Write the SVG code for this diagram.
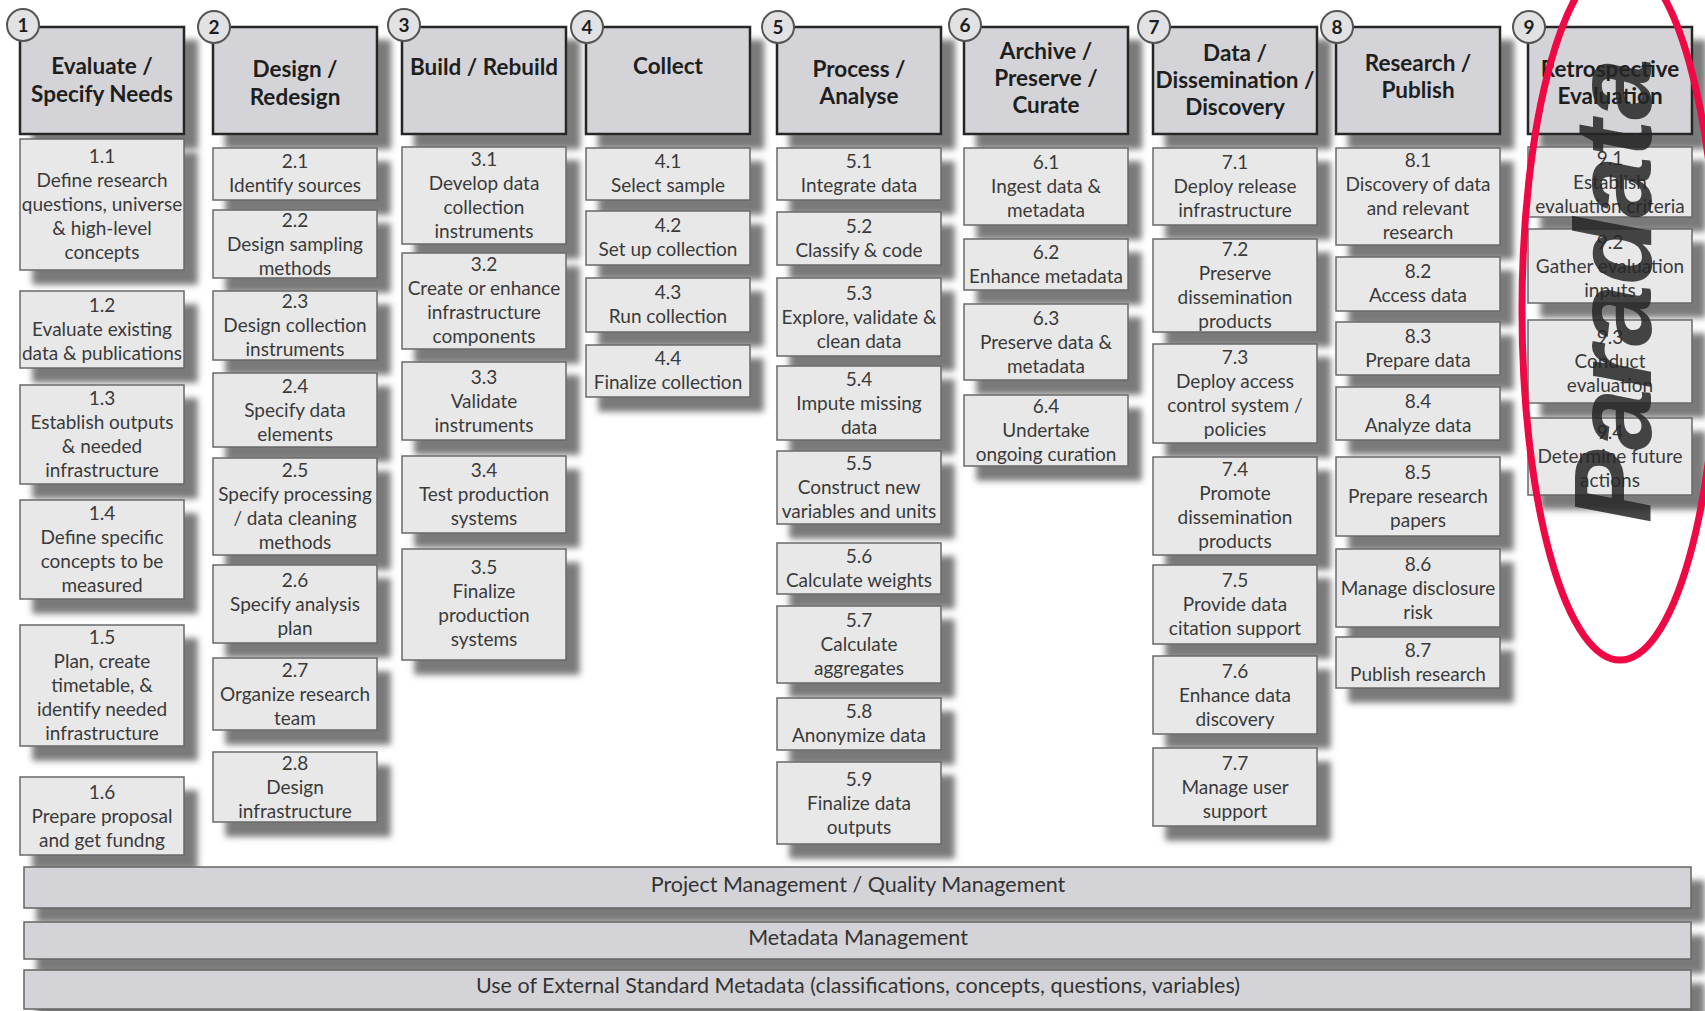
<svg xmlns="http://www.w3.org/2000/svg" width="1705" height="1011" viewBox="0 0 1705 1011">
  <defs>
    <filter id="drop" x="-5%" y="-20%" width="125%" height="200%">
      <feGaussianBlur in="SourceAlpha" stdDeviation="3"/>
      <feOffset dx="13" dy="14" result="off"/>
      <feFlood flood-color="#6c6c6c" flood-opacity="0.9"/>
      <feComposite in2="off" operator="in"/>
      <feMerge><feMergeNode/><feMergeNode in="SourceGraphic"/></feMerge>
    </filter>
    <style>
      .hdr { fill: #d4d4d8; stroke: #262626; stroke-width: 2.5; filter: url(#drop); }
      .box { fill: #e8e8e9; stroke: #6a6a6a; stroke-width: 1.5; filter: url(#drop); }
      .bar { fill: #d4d4d8; stroke: #666; stroke-width: 1.5; filter: url(#drop); }
      .num { fill: #e2e2e4; stroke: #555; stroke-width: 2; }
      .numt { font-family: Lato, "Liberation Sans", sans-serif; font-weight: 700; font-size: 19px; fill: #1e1e1e; text-anchor: middle; }
      .ht { font-family: Lato, "Liberation Sans", sans-serif; font-weight: 700; font-size: 22.5px; fill: #1e1e1e; text-anchor: middle; }
      .st { font-family: Lato, "Liberation Sans", sans-serif; font-size: 19px; fill: #3a3a3a; text-anchor: middle; }
      .bt { font-family: Lato, "Liberation Sans", sans-serif; font-size: 21.5px; fill: #333; text-anchor: middle; }
    </style>
  </defs>

  <!-- Phase 1 -->
  <g id="phase1">
    <rect class="hdr" x="20" y="27" width="164" height="107"/>
    <circle class="num" cx="23" cy="25" r="16"/><text class="numt" x="23" y="32">1</text>
    <text class="ht" x="102" y="74">Evaluate /<tspan x="102" dy="28">Specify Needs</tspan></text>
  </g>
  <g id="n1_1"><rect class="box" x="20" y="139" width="164" height="131"/>
    <text class="st" x="102" y="163">1.1<tspan x="102" dy="24">Define research</tspan><tspan x="102" dy="24">questions, universe</tspan><tspan x="102" dy="24">&amp; high-level</tspan><tspan x="102" dy="24">concepts</tspan></text></g>
  <g id="n1_2"><rect class="box" x="20" y="291" width="164" height="77"/>
    <text class="st" x="102" y="312">1.2<tspan x="102" dy="24">Evaluate existing</tspan><tspan x="102" dy="24">data &amp; publications</tspan></text></g>
  <g id="n1_3"><rect class="box" x="20" y="385" width="164" height="99"/>
    <text class="st" x="102" y="405">1.3<tspan x="102" dy="24">Establish outputs</tspan><tspan x="102" dy="24">&amp; needed</tspan><tspan x="102" dy="24">infrastructure</tspan></text></g>
  <g id="n1_4"><rect class="box" x="20" y="500" width="164" height="99"/>
    <text class="st" x="102" y="520">1.4<tspan x="102" dy="24">Define specific</tspan><tspan x="102" dy="24">concepts to be</tspan><tspan x="102" dy="24">measured</tspan></text></g>
  <g id="n1_5"><rect class="box" x="20" y="625" width="164" height="121"/>
    <text class="st" x="102" y="644">1.5<tspan x="102" dy="24">Plan, create</tspan><tspan x="102" dy="24">timetable, &amp;</tspan><tspan x="102" dy="24">identify needed</tspan><tspan x="102" dy="24">infrastructure</tspan></text></g>
  <g id="n1_6"><rect class="box" x="20" y="777" width="164" height="78"/>
    <text class="st" x="102" y="798.5">1.6<tspan x="102" dy="24">Prepare proposal</tspan><tspan x="102" dy="24">and get fundng</tspan></text></g>

  <!-- Phase 2 -->
  <g id="phase2">
    <rect class="hdr" x="213" y="27" width="164" height="107"/>
    <circle class="num" cx="214" cy="27" r="16"/><text class="numt" x="214" y="34">2</text>
    <text class="ht" x="295" y="77">Design /<tspan x="295" dy="28">Redesign</tspan></text>
  </g>
  <g id="n2_1"><rect class="box" x="213" y="148" width="164" height="52"/>
    <text class="st" x="295" y="168">2.1<tspan x="295" dy="24">Identify sources</tspan></text></g>
  <g id="n2_2"><rect class="box" x="213" y="210" width="164" height="68"/>
    <text class="st" x="295" y="226.5">2.2<tspan x="295" dy="24">Design sampling</tspan><tspan x="295" dy="24">methods</tspan></text></g>
  <g id="n2_3"><rect class="box" x="213" y="291" width="164" height="69"/>
    <text class="st" x="295" y="308">2.3<tspan x="295" dy="24">Design collection</tspan><tspan x="295" dy="24">instruments</tspan></text></g>
  <g id="n2_4"><rect class="box" x="213" y="373" width="164" height="74"/>
    <text class="st" x="295" y="392.5">2.4<tspan x="295" dy="24">Specify data</tspan><tspan x="295" dy="24">elements</tspan></text></g>
  <g id="n2_5"><rect class="box" x="213" y="458" width="164" height="97"/>
    <text class="st" x="295" y="477">2.5<tspan x="295" dy="24">Specify processing</tspan><tspan x="295" dy="24">/ data cleaning</tspan><tspan x="295" dy="24">methods</tspan></text></g>
  <g id="n2_6"><rect class="box" x="213" y="565" width="164" height="78"/>
    <text class="st" x="295" y="586.5">2.6<tspan x="295" dy="24">Specify analysis</tspan><tspan x="295" dy="24">plan</tspan></text></g>
  <g id="n2_7"><rect class="box" x="213" y="658" width="164" height="72"/>
    <text class="st" x="295" y="676.5">2.7<tspan x="295" dy="24">Organize research</tspan><tspan x="295" dy="24">team</tspan></text></g>
  <g id="n2_8"><rect class="box" x="213" y="752" width="164" height="70"/>
    <text class="st" x="295" y="769.5">2.8<tspan x="295" dy="24">Design</tspan><tspan x="295" dy="24">infrastructure</tspan></text></g>

  <!-- Phase 3 -->
  <g id="phase3">
    <rect class="hdr" x="402" y="27" width="164" height="107"/>
    <circle class="num" cx="404" cy="25" r="16"/><text class="numt" x="404" y="32">3</text>
    <text class="ht" x="484" y="75">Build / Rebuild</text>
  </g>
  <g id="n3_1"><rect class="box" x="402" y="147" width="164" height="97"/>
    <text class="st" x="484" y="166">3.1<tspan x="484" dy="24">Develop data</tspan><tspan x="484" dy="24">collection</tspan><tspan x="484" dy="24">instruments</tspan></text></g>
  <g id="n3_2"><rect class="box" x="402" y="253" width="164" height="96"/>
    <text class="st" x="484" y="271">3.2<tspan x="484" dy="24">Create or enhance</tspan><tspan x="484" dy="24">infrastructure</tspan><tspan x="484" dy="24">components</tspan></text></g>
  <g id="n3_3"><rect class="box" x="402" y="362" width="164" height="78"/>
    <text class="st" x="484" y="383.5">3.3<tspan x="484" dy="24">Validate</tspan><tspan x="484" dy="24">instruments</tspan></text></g>
  <g id="n3_4"><rect class="box" x="402" y="456" width="164" height="77"/>
    <text class="st" x="484" y="477">3.4<tspan x="484" dy="24">Test production</tspan><tspan x="484" dy="24">systems</tspan></text></g>
  <g id="n3_5"><rect class="box" x="402" y="549" width="164" height="111"/>
    <text class="st" x="484" y="574">3.5<tspan x="484" dy="24">Finalize</tspan><tspan x="484" dy="24">production</tspan><tspan x="484" dy="24">systems</tspan></text></g>

  <!-- Phase 4 -->
  <g id="phase4">
    <rect class="hdr" x="586" y="27" width="164" height="107"/>
    <circle class="num" cx="587" cy="27" r="16"/><text class="numt" x="587" y="34">4</text>
    <text class="ht" x="668" y="74">Collect</text>
  </g>
  <g id="n4_1"><rect class="box" x="586" y="148" width="164" height="52"/>
    <text class="st" x="668" y="168">4.1<tspan x="668" dy="24">Select sample</tspan></text></g>
  <g id="n4_2"><rect class="box" x="586" y="211" width="164" height="54"/>
    <text class="st" x="668" y="232">4.2<tspan x="668" dy="24">Set up collection</tspan></text></g>
  <g id="n4_3"><rect class="box" x="586" y="278" width="164" height="54"/>
    <text class="st" x="668" y="299">4.3<tspan x="668" dy="24">Run collection</tspan></text></g>
  <g id="n4_4"><rect class="box" x="586" y="345" width="164" height="52"/>
    <text class="st" x="668" y="365">4.4<tspan x="668" dy="24">Finalize collection</tspan></text></g>

  <!-- Phase 5 -->
  <g id="phase5">
    <rect class="hdr" x="777" y="27" width="164" height="107"/>
    <circle class="num" cx="778" cy="27" r="16"/><text class="numt" x="778" y="34">5</text>
    <text class="ht" x="859" y="77">Process /<tspan x="859" dy="27">Analyse</tspan></text>
  </g>
  <g id="n5_1"><rect class="box" x="777" y="148" width="164" height="52"/>
    <text class="st" x="859" y="168">5.1<tspan x="859" dy="24">Integrate data</tspan></text></g>
  <g id="n5_2"><rect class="box" x="777" y="212" width="164" height="53"/>
    <text class="st" x="859" y="232.5">5.2<tspan x="859" dy="24">Classify &amp; code</tspan></text></g>
  <g id="n5_3"><rect class="box" x="777" y="278" width="164" height="78"/>
    <text class="st" x="859" y="299.5">5.3<tspan x="859" dy="24">Explore, validate &amp;</tspan><tspan x="859" dy="24">clean data</tspan></text></g>
  <g id="n5_4"><rect class="box" x="777" y="366" width="164" height="74"/>
    <text class="st" x="859" y="385.5">5.4<tspan x="859" dy="24">Impute missing</tspan><tspan x="859" dy="24">data</tspan></text></g>
  <g id="n5_5"><rect class="box" x="777" y="451" width="164" height="73"/>
    <text class="st" x="859" y="470">5.5<tspan x="859" dy="24">Construct new</tspan><tspan x="859" dy="24">variables and units</tspan></text></g>
  <g id="n5_6"><rect class="box" x="777" y="543" width="164" height="51"/>
    <text class="st" x="859" y="562.5">5.6<tspan x="859" dy="24">Calculate weights</tspan></text></g>
  <g id="n5_7"><rect class="box" x="777" y="606" width="164" height="77"/>
    <text class="st" x="859" y="627">5.7<tspan x="859" dy="24">Calculate</tspan><tspan x="859" dy="24">aggregates</tspan></text></g>
  <g id="n5_8"><rect class="box" x="777" y="698" width="164" height="52"/>
    <text class="st" x="859" y="718">5.8<tspan x="859" dy="24">Anonymize data</tspan></text></g>
  <g id="n5_9"><rect class="box" x="777" y="762" width="164" height="82"/>
    <text class="st" x="859" y="785.5">5.9<tspan x="859" dy="24">Finalize data</tspan><tspan x="859" dy="24">outputs</tspan></text></g>

  <!-- Phase 6 -->
  <g id="phase6">
    <rect class="hdr" x="964" y="27" width="164" height="107"/>
    <circle class="num" cx="965" cy="25" r="16"/><text class="numt" x="965" y="32">6</text>
    <text class="ht" x="1046" y="59">Archive /<tspan x="1046" dy="27">Preserve /</tspan><tspan x="1046" dy="27">Curate</tspan></text>
  </g>
  <g id="n6_1"><rect class="box" x="964" y="148" width="164" height="77"/>
    <text class="st" x="1046" y="169">6.1<tspan x="1046" dy="24">Ingest data &amp;</tspan><tspan x="1046" dy="24">metadata</tspan></text></g>
  <g id="n6_2"><rect class="box" x="964" y="239" width="164" height="51"/>
    <text class="st" x="1046" y="258.5">6.2<tspan x="1046" dy="24">Enhance metadata</tspan></text></g>
  <g id="n6_3"><rect class="box" x="964" y="304" width="164" height="76"/>
    <text class="st" x="1046" y="324.5">6.3<tspan x="1046" dy="24">Preserve data &amp;</tspan><tspan x="1046" dy="24">metadata</tspan></text></g>
  <g id="n6_4"><rect class="box" x="964" y="395" width="164" height="71"/>
    <text class="st" x="1046" y="413">6.4<tspan x="1046" dy="24">Undertake</tspan><tspan x="1046" dy="24">ongoing curation</tspan></text></g>

  <!-- Phase 7 -->
  <g id="phase7">
    <rect class="hdr" x="1153" y="27" width="164" height="107"/>
    <circle class="num" cx="1154" cy="27" r="16"/><text class="numt" x="1154" y="34">7</text>
    <text class="ht" x="1235" y="61">Data /<tspan x="1235" dy="27">Dissemination /</tspan><tspan x="1235" dy="27">Discovery</tspan></text>
  </g>
  <g id="n7_1"><rect class="box" x="1153" y="148" width="164" height="77"/>
    <text class="st" x="1235" y="169">7.1<tspan x="1235" dy="24">Deploy release</tspan><tspan x="1235" dy="24">infrastructure</tspan></text></g>
  <g id="n7_2"><rect class="box" x="1153" y="239" width="164" height="93"/>
    <text class="st" x="1235" y="256">7.2<tspan x="1235" dy="24">Preserve</tspan><tspan x="1235" dy="24">dissemination</tspan><tspan x="1235" dy="24">products</tspan></text></g>
  <g id="n7_3"><rect class="box" x="1153" y="344" width="164" height="99"/>
    <text class="st" x="1235" y="364">7.3<tspan x="1235" dy="24">Deploy access</tspan><tspan x="1235" dy="24">control system /</tspan><tspan x="1235" dy="24">policies</tspan></text></g>
  <g id="n7_4"><rect class="box" x="1153" y="457" width="164" height="98"/>
    <text class="st" x="1235" y="476">7.4<tspan x="1235" dy="24">Promote</tspan><tspan x="1235" dy="24">dissemination</tspan><tspan x="1235" dy="24">products</tspan></text></g>
  <g id="n7_5"><rect class="box" x="1153" y="565" width="164" height="79"/>
    <text class="st" x="1235" y="587">7.5<tspan x="1235" dy="24">Provide data</tspan><tspan x="1235" dy="24">citation support</tspan></text></g>
  <g id="n7_6"><rect class="box" x="1153" y="656" width="164" height="78"/>
    <text class="st" x="1235" y="677.5">7.6<tspan x="1235" dy="24">Enhance data</tspan><tspan x="1235" dy="24">discovery</tspan></text></g>
  <g id="n7_7"><rect class="box" x="1153" y="748" width="164" height="78"/>
    <text class="st" x="1235" y="769.5">7.7<tspan x="1235" dy="24">Manage user</tspan><tspan x="1235" dy="24">support</tspan></text></g>

  <!-- Phase 8 -->
  <g id="phase8">
    <rect class="hdr" x="1336" y="27" width="164" height="107"/>
    <circle class="num" cx="1337" cy="27" r="16"/><text class="numt" x="1337" y="34">8</text>
    <text class="ht" x="1418" y="71">Research /<tspan x="1418" dy="27">Publish</tspan></text>
  </g>
  <g id="n8_1"><rect class="box" x="1336" y="148" width="164" height="97"/>
    <text class="st" x="1418" y="167">8.1<tspan x="1418" dy="24">Discovery of data</tspan><tspan x="1418" dy="24">and relevant</tspan><tspan x="1418" dy="24">research</tspan></text></g>
  <g id="n8_2"><rect class="box" x="1336" y="257" width="164" height="54"/>
    <text class="st" x="1418" y="278">8.2<tspan x="1418" dy="24">Access data</tspan></text></g>
  <g id="n8_3"><rect class="box" x="1336" y="322" width="164" height="53"/>
    <text class="st" x="1418" y="342.5">8.3<tspan x="1418" dy="24">Prepare data</tspan></text></g>
  <g id="n8_4"><rect class="box" x="1336" y="387" width="164" height="53"/>
    <text class="st" x="1418" y="407.5">8.4<tspan x="1418" dy="24">Analyze data</tspan></text></g>
  <g id="n8_5"><rect class="box" x="1336" y="457" width="164" height="79"/>
    <text class="st" x="1418" y="479">8.5<tspan x="1418" dy="24">Prepare research</tspan><tspan x="1418" dy="24">papers</tspan></text></g>
  <g id="n8_6"><rect class="box" x="1336" y="549" width="164" height="78"/>
    <text class="st" x="1418" y="570.5">8.6<tspan x="1418" dy="24">Manage disclosure</tspan><tspan x="1418" dy="24">risk</tspan></text></g>
  <g id="n8_7"><rect class="box" x="1336" y="637" width="164" height="51"/>
    <text class="st" x="1418" y="656.5">8.7<tspan x="1418" dy="24">Publish research</tspan></text></g>

  <!-- Phase 9 -->
  <g id="phase9">
    <rect class="hdr" x="1528" y="27" width="164" height="107"/>
    <circle class="num" cx="1529" cy="27" r="16"/><text class="numt" x="1529" y="34">9</text>
    <text class="ht" x="1610" y="77">Retrospective<tspan x="1610" dy="27">Evaluation</tspan></text>
  </g>
  <g id="n9_1"><rect class="box" x="1528" y="147" width="164" height="70"/>
    <text class="st" x="1610" y="164.5">9.1<tspan x="1610" dy="24">Establish</tspan><tspan x="1610" dy="24">evaluation criteria</tspan></text></g>
  <g id="n9_2"><rect class="box" x="1528" y="229" width="164" height="74"/>
    <text class="st" x="1610" y="248.5">9.2<tspan x="1610" dy="24">Gather evaluation</tspan><tspan x="1610" dy="24">inputs</tspan></text></g>
  <g id="n9_3"><rect class="box" x="1528" y="320" width="164" height="83"/>
    <text class="st" x="1610" y="344">9.3<tspan x="1610" dy="24">Conduct</tspan><tspan x="1610" dy="24">evaluation</tspan></text></g>
  <g id="n9_4"><rect class="box" x="1528" y="418" width="164" height="77"/>
    <text class="st" x="1610" y="439">9.4<tspan x="1610" dy="24">Determine future</tspan><tspan x="1610" dy="24">actions</tspan></text></g>

  <!-- Cross-cutting bands -->
  <g id="band_pm"><rect class="bar" x="24" y="867" width="1667" height="41"/>
    <text class="bt" x="858" y="892">Project Management / Quality Management</text></g>
  <g id="band_meta"><rect class="bar" x="24" y="922" width="1667" height="37"/>
    <text class="bt" x="858" y="945">Metadata Management</text></g>
  <g id="band_ext"><rect class="bar" x="24" y="970" width="1667" height="39"/>
    <text class="bt" x="858" y="993">Use of External Standard Metadata (classifications, concepts, questions, variables)</text></g>

  <!-- Paradata highlight over phase 9 -->
  <g id="paradata">
    <text transform="translate(1651,291) rotate(-90)" x="0" y="0" text-anchor="middle" font-family="'Liberation Sans', Arial, sans-serif" font-weight="700" font-style="italic" font-size="110" fill="#262626" fill-opacity="0.85">Paradata</text>
    <ellipse cx="1620" cy="310" rx="98" ry="350" fill="none" stroke="#ee0844" stroke-width="7"/>
  </g>
</svg>
